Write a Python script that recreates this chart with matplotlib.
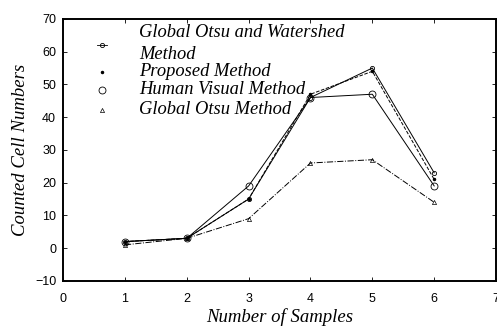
import matplotlib
matplotlib.use('Agg')
import matplotlib.pyplot as plt

# samples on the x axis
samples = [1, 2, 3, 4, 5, 6]

# counted cells per method
otsu_watershed = [2, 3, 15, 46, 55, 23]
proposed = [2, 3, 15, 47, 54, 21]
human_visual = [2, 3, 19, 46, 47, 19]
global_otsu = [1, 3, 9, 26, 27, 14]

labels = ['Global Otsu and Watershed\nMethod', 'Proposed Method',
          'Human Visual Method', 'Global Otsu Method']

x_ticks = [0, 1, 2, 3, 4, 5, 6, 7]
y_ticks = [-10, 0, 10, 20, 30, 40, 50, 60, 70]

serif = ['Liberation Serif', 'DejaVu Serif']
sans = ['Liberation Sans', 'DejaVu Sans']

fig = plt.figure(figsize=(4.97, 3.32), dpi=100)
ax = fig.add_axes([0.127, 0.154, 0.871, 0.789])

styles = [
    dict(ls='-', marker='o', ms=3, mfc='none', mew=0.6),
    dict(ls='--', marker='.', ms=3),
    dict(ls='-', marker='o', ms=5, mfc='none', mew=0.6),
    dict(ls='-.', marker='^', ms=3, mfc='none', mew=0.5),
]
series = [otsu_watershed, proposed, human_visual, global_otsu]
for vals, st in zip(series, styles):
    ax.plot(samples, vals, color='k', lw=0.7, **st)

ax.set_xlim(0, 7)
ax.set_ylim(-10, 70)
ax.set_xticks(x_ticks)
ax.set_yticks(y_ticks)
ax.tick_params(direction='in', length=3, width=0.6, top=True, right=True,
               labelsize=9)
ax.tick_params(axis='x', pad=9)
ax.tick_params(axis='y', pad=5)
for lab in ax.get_xticklabels() + ax.get_yticklabels():
    lab.set_family(sans)
for s in ax.spines.values():
    s.set_linewidth(1.4)

ax.set_xlabel('Number of Samples', family=serif, style='italic',
              fontsize=13.5, labelpad=2)
ax.set_ylabel('Counted Cell Numbers', family=serif, style='italic',
              fontsize=13.5, labelpad=4)

# legend drawn by hand, as in the original (no frame, uneven rows)
key_x, text_x = 0.090, 0.176
key_y = [0.901, 0.798, 0.729, 0.653]
text_y = [[0.947, 0.863], [0.800], [0.729], [0.653]]
for i, st in enumerate(styles):
    ax.plot([key_x], [key_y[i]], color='k', transform=ax.transAxes,
            clip_on=False, **{k: v for k, v in st.items() if k != 'ls'})
    for line, ty in zip(labels[i].split('\n'), text_y[i]):
        ax.text(text_x, ty, line, transform=ax.transAxes, va='center',
                ha='left', family=serif, style='italic', fontsize=13.3)
ax.plot([key_x - 0.012, key_x + 0.012], [key_y[0]] * 2, color='k', lw=0.6,
        transform=ax.transAxes)

fig.savefig('out.png', dpi=100)
